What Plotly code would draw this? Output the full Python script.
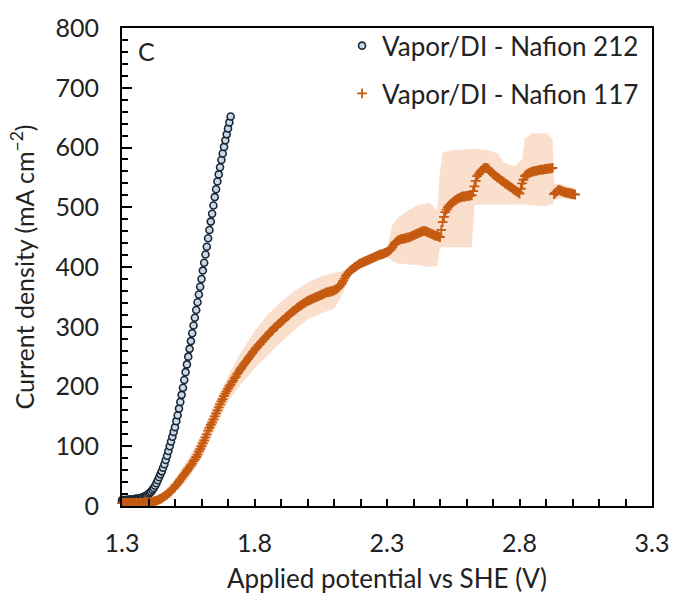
import numpy as np
import plotly.graph_objects as go

# Potential step of the sweeps (V)
STEP = 0.005

# Vapor/DI - Nafion 212, current density (mA cm-2) from 1.300 V in 5 mV steps
n212_current = [
    10, 10, 10, 10, 10, 11, 11, 11, 11, 11, 12, 12, 12, 13, 13, 14, 15, 16, 17, 18,
    20, 22, 24, 27, 30, 34, 38, 43, 48, 53, 58, 64, 70, 77, 84, 92, 100, 108, 116, 124,
    132, 142, 152, 163, 174, 186, 198, 211, 224, 237, 250, 263, 276, 289, 302, 315, 328, 341, 354, 367,
    380, 394, 407, 421, 434, 448, 462, 476, 489, 503, 517, 530, 543, 555, 567, 579, 590, 601, 612, 622,
    632, 642, 652,
]

# Vapor/DI - Nafion 117, mean current density (mA cm-2) from 1.300 V in 5 mV steps
n117_current = [
    5, 5, 5, 5, 5, 5, 5, 5, 5, 5, 5, 5, 5, 5, 5, 5, 5, 6, 6, 6,
    6, 6, 7, 7, 8, 8, 9, 10, 11, 12, 13, 15, 16, 18, 19, 21, 23, 25, 28, 30,
    33, 35, 38, 41, 44, 47, 50, 53, 56, 59, 62, 65, 68, 71, 75, 78, 82, 86, 91, 95,
    100, 105, 110, 115, 120, 126, 131, 136, 140, 145, 150, 155, 160, 165, 170, 175, 179, 184, 188, 192,
    196, 200, 203, 207, 210, 214, 217, 221, 224, 228, 231, 234, 237, 240, 243, 246, 249, 252, 255, 258,
    261, 264, 266, 269, 271, 274, 276, 279, 281, 284, 286, 289, 291, 293, 295, 298, 300, 302, 304, 306,
    308, 310, 312, 314, 316, 318, 320, 322, 324, 326, 327, 329, 331, 333, 334, 336, 337, 339, 340, 342,
    343, 344, 345, 346, 347, 348, 349, 350, 351, 352, 353, 354, 355, 356, 357, 358, 358, 359, 359, 360,
    361, 362, 363, 365, 367, 370, 373, 377, 381, 385, 388, 391, 393, 395, 397, 399, 400, 402, 403, 405,
    406, 407, 408, 409, 410, 411, 412, 413, 414, 415, 416, 417, 418, 419, 420, 421, 421, 422, 423, 424,
    425, 426, 428, 430, 433, 437, 440, 442, 444, 445, 446, 447, 447, 448, 448, 449, 449, 450, 451, 452,
    453, 454, 455, 456, 457, 458, 459, 460, 460, 460, 459, 458, 457, 456, 455, 454, 453, 452, 452, 451,
    450, 462, 475, 484, 492, 496, 500, 503, 505, 507, 509, 511, 512, 514, 515, 516, 517, 518, 518, 518,
    519, 519, 519, 520, 520, 527, 535, 544, 552, 555, 558, 561, 563, 565, 566, 566, 565, 563, 560, 558,
    556, 554, 552, 550, 549, 547, 545, 544, 542, 540, 539, 537, 536, 534, 533, 531, 529, 528, 526, 525,
    523, 531, 540, 546, 552, 554, 556, 557, 558, 559, 560, 560, 561, 561, 562, 562, 563, 563, 563, 564,
    564, 564, 565, 565, 565, 566, 522, 524, 526, 528, 529, 528, 527, 526, 525, 525, 524, 524, 523, 523,
    522, 522, 521,
]

# Spread of the Nafion 117 runs (shaded envelope)
band_potential = [
    1.30, 1.40, 1.45, 1.50, 1.55, 1.60, 1.65, 1.70, 1.75, 1.80, 1.85, 1.90, 1.95, 2.00,
    2.05, 2.10, 2.13, 2.16, 2.20, 2.25, 2.30, 2.32, 2.34, 2.38, 2.42, 2.46, 2.49, 2.50,
    2.51, 2.55, 2.60, 2.62, 2.63, 2.68, 2.72, 2.74, 2.78, 2.81, 2.82, 2.85, 2.90, 2.925,
    2.93, 2.96, 3.01,
]
band_upper = [
    8, 9, 20, 45, 80, 120, 172, 218, 258, 292, 320, 342, 360, 374,
    384, 390, 392, 400, 412, 422, 430, 470, 482, 495, 504, 507, 495, 560,
    592, 596, 598, 598, 598, 596, 590, 575, 568, 580, 615, 624, 624, 615,
    540, 538, 532,
]
band_lower = [
    2, 3, 7, 22, 45, 80, 128, 174, 204, 230, 252, 274, 294, 312,
    322, 330, 352, 385, 398, 408, 418, 410, 406, 404, 403, 400, 402, 432,
    433, 433, 433, 433, 504, 504, 505, 505, 505, 505, 505, 503, 502, 505,
    512, 515, 512,
]

x_ticks = [1.3, 1.8, 2.3, 2.8, 3.3]

v212 = np.round(1.30 + STEP * np.arange(len(n212_current)), 3)
v117 = np.round(1.30 + STEP * np.arange(len(n117_current)), 3)

FONT = "Lato"
TEXT = "#222222"
ORANGE = "#C55A11"
BAND = "#FADFCD"

fig = go.Figure()

# shaded envelope: lower edge, then upper edge filled down to it
fig.add_trace(go.Scatter(
    x=band_potential, y=band_lower, mode="lines",
    line=dict(width=0, color=BAND), showlegend=False, hoverinfo="skip",
))
fig.add_trace(go.Scatter(
    x=band_potential, y=band_upper, mode="lines", fill="tonexty",
    fillcolor=BAND, line=dict(width=0, color=BAND),
    showlegend=False, hoverinfo="skip",
))

fig.add_trace(go.Scatter(
    x=v212, y=n212_current, mode="markers", name="Vapor/DI - Nafion 212",
    legendgroup="a",
    marker=dict(symbol="circle", size=7, color="#C8DAEA",
                line=dict(color="#1B2633", width=1.6)),
    cliponaxis=False,
))
fig.add_trace(go.Scatter(
    x=v117, y=n117_current, mode="markers", name="Vapor/DI - Nafion 117",
    legendgroup="b",
    marker=dict(symbol="cross-thin", size=7, color=ORANGE,
                line=dict(color=ORANGE, width=1.8)),
    cliponaxis=False,
))

fig.add_annotation(
    x=0.027, y=0.988, xref="paper", yref="paper", text="C", showarrow=False,
    xanchor="left", yanchor="top", font=dict(family=FONT, size=25, color=TEXT),
)

axis_common = dict(
    showline=True, linecolor="black", linewidth=2, mirror=True,
    ticks="inside", tickcolor="black", tickwidth=2,
    showgrid=False, zeroline=False,
    tickfont=dict(family=FONT, size=25, color=TEXT),
)

fig.update_xaxes(
    range=[1.3, 3.3], tickmode="array", tickvals=x_ticks,
    ticktext=[f"{v:.1f}" for v in x_ticks], ticklen=7,
    ticklabelstandoff=14,
    minor=dict(dtick=0.1, tick0=1.3, ticks="inside", ticklen=7,
               tickcolor="black", tickwidth=2),
    title=dict(text="Applied potential vs SHE (V)",
               font=dict(family=FONT, size=26, color=TEXT), standoff=14),
    **axis_common,
)
fig.update_yaxes(
    range=[0, 800], dtick=100, ticklen=10,
    ticklabelstandoff=16,
    minor=dict(dtick=20, ticks="inside", ticklen=6,
               tickcolor="black", tickwidth=2),
    title=dict(text="Current density (mA cm<sup>−2</sup>)",
               font=dict(family=FONT, size=25, color=TEXT), standoff=14),
    **axis_common,
)

fig.update_layout(
    width=681, height=602,
    margin=dict(l=122, r=19, t=21, b=96),
    plot_bgcolor="white", paper_bgcolor="white",
    showlegend=True,
    legend=dict(
        x=0.985, y=1.012, xanchor="right", yanchor="top",
        bgcolor="rgba(0,0,0,0)", font=dict(family=FONT, size=26, color=TEXT),
        tracegroupgap=11, itemsizing="trace", traceorder="grouped",
        itemwidth=30,
    ),
)

fig.write_html("out.html")
